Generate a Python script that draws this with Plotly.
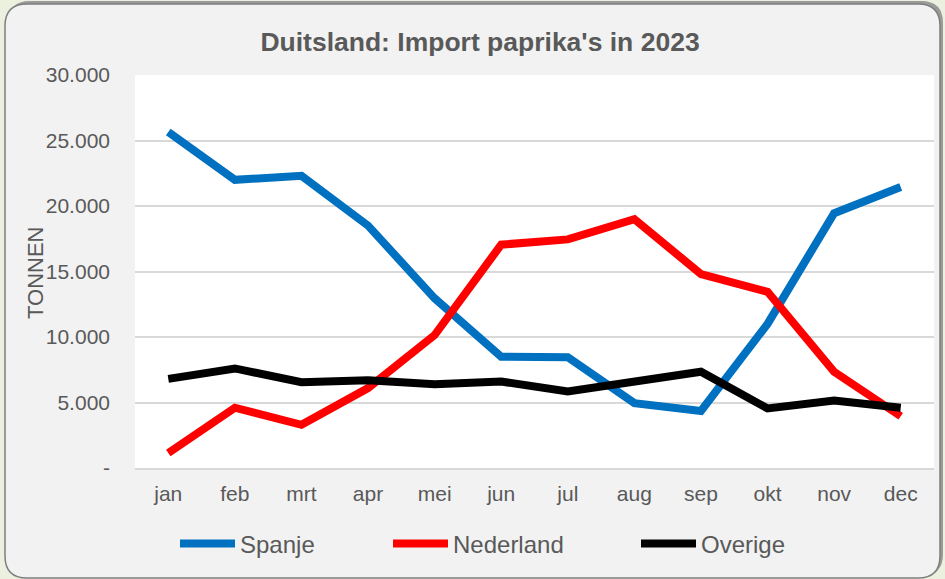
import plotly.graph_objects as go

months = ["jan", "feb", "mrt", "apr", "mei", "jun", "jul", "aug", "sep", "okt", "nov", "dec"]
spanje = [25650, 22000, 22300, 18500, 12950, 8500, 8450, 4950, 4350, 11000, 19450, 21450]
nederland = [1150, 4600, 3300, 6100, 10150, 17050, 17450, 19000, 14800, 13450, 7350, 3950]
overige = [6800, 7600, 6550, 6700, 6400, 6600, 5850, 6600, 7350, 4550, 5150, 4600]

y_tickvals = [0, 5000, 10000, 15000, 20000, 25000, 30000]
y_ticktext = ["-", "5.000", "10.000", "15.000", "20.000", "25.000", "30.000"]

W, H = 945, 579
ML, MR, MT, MB = 135, 11, 75, 111
PW, PH = W - ML - MR, H - MT - MB
FONT = "Liberation Sans, Arial, sans-serif"
GREY = "#595959"
OUTER = "#ebf1de"


def px(x):
    return (x - ML) / PW


def py(y):
    return (H - MB - y) / PH


def rounded(x0, y0, x1, y1, r):
    pts = [
        f"M {px(x0 + r)},{py(y0)}",
        f"L {px(x1 - r)},{py(y0)}",
        f"Q {px(x1)},{py(y0)} {px(x1)},{py(y0 + r)}",
        f"L {px(x1)},{py(y1 - r)}",
        f"Q {px(x1)},{py(y1)} {px(x1 - r)},{py(y1)}",
        f"L {px(x0 + r)},{py(y1)}",
        f"Q {px(x0)},{py(y1)} {px(x0)},{py(y1 - r)}",
        f"L {px(x0)},{py(y0 + r)}",
        f"Q {px(x0)},{py(y0)} {px(x0 + r)},{py(y0)}",
        "Z",
    ]
    return " ".join(pts)


series = [("Spanje", spanje, "#0070c0", "legend", 175),
          ("Nederland", nederland, "#ff0000", "legend2", 388),
          ("Overige", overige, "#000000", "legend3", 636)]

fig = go.Figure()
for name, vals, col, lg, _ in series:
    fig.add_trace(go.Scatter(x=months, y=vals, name=name, mode="lines",
                             line=dict(color=col, width=8), legend=lg))

shapes = [
    dict(type="path", xref="paper", yref="paper", layer="below",
         path=rounded(8, 1, 943, 576, 22), fillcolor="#9a9a9a", line=dict(width=0)),
    dict(type="path", xref="paper", yref="paper", layer="below",
         path=rounded(5, 4, 940, 578, 22), fillcolor="#f2f2f2",
         line=dict(color="#7f7f7f", width=1.5)),
    dict(type="rect", xref="paper", yref="paper", layer="below",
         x0=0, x1=1, y0=0, y1=1, fillcolor="white", line=dict(width=0)),
]

legends = {}
for _, _, _, lg, lx in series:
    legends[lg] = dict(orientation="h", xref="paper", x=px(lx), xanchor="left",
                       yref="paper", y=py(544), yanchor="middle",
                       itemwidth=55, font=dict(size=24, color=GREY),
                       bgcolor="rgba(0,0,0,0)", borderwidth=0)

fig.update_layout(
    width=W, height=H,
    margin=dict(l=ML, r=MR, t=MT, b=MB),
    paper_bgcolor=OUTER,
    plot_bgcolor="rgba(0,0,0,0)",
    separators=",.",
    font=dict(family=FONT, color=GREY, size=21),
    shapes=shapes,
    title=dict(text="<b>Duitsland: Import paprika's in 2023</b>",
               font=dict(size=26.5, color=GREY, family=FONT),
               xref="paper", x=px(480), xanchor="center",
               yref="container", y=1 - 42 / H, yanchor="middle"),
    xaxis=dict(type="category", range=[-0.5, 11.5], showgrid=False,
               showline=True, linecolor="#d9d9d9", linewidth=2,
               ticks="", ticklabelstandoff=6,
               tickfont=dict(size=21, color=GREY), fixedrange=True),
    yaxis=dict(range=[0, 30000], tickvals=y_tickvals, ticktext=y_ticktext,
               showgrid=True, gridcolor="#d9d9d9", gridwidth=2,
               zeroline=False, showline=False, ticks="",
               ticklabelstandoff=24,
               tickfont=dict(size=21, color=GREY), fixedrange=True),
    annotations=[dict(text="TONNEN", textangle=-90, xref="paper", yref="paper",
                      x=px(35), y=py(273), xanchor="center", yanchor="middle",
                      showarrow=False, font=dict(size=22, color=GREY))],
    showlegend=True,
    **legends,
)

fig.write_html(
    "out.html",
    config={"displayModeBar": False},
    post_script=("document.body.style.margin='0';"
                 f"document.body.style.background='{OUTER}';"),
)
